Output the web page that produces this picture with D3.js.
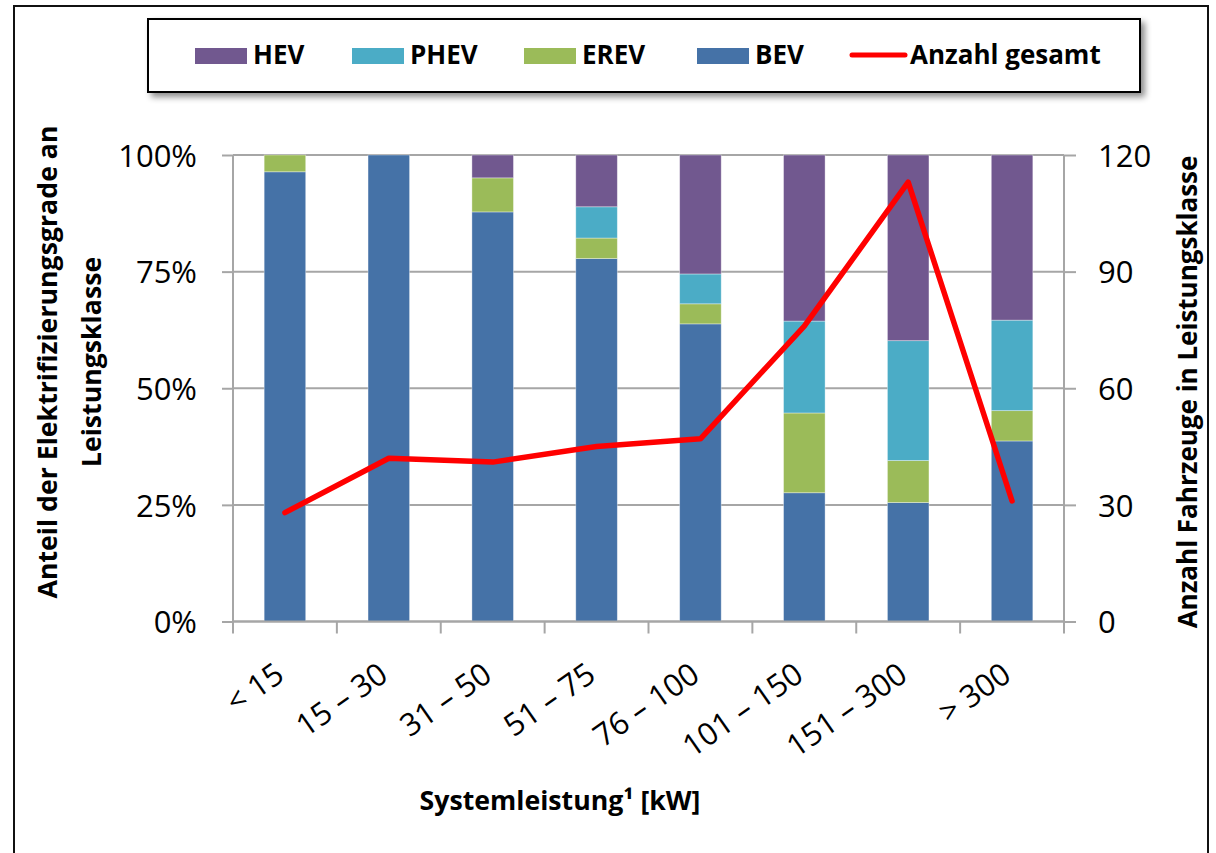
<!DOCTYPE html>
<html><head><meta charset="utf-8">
<script src="https://cdn.jsdelivr.net/npm/d3@7"></script>
<style>body{margin:0;background:#fff}</style>
</head><body>
<svg id="chart" width="1216" height="853"></svg>
<script>
// ---- data ----
const categories = ["< 15", "15 – 30", "31 – 50", "51 – 75", "76 – 100", "101 – 150", "151 – 300", "> 300"];
const bev  = [96.4, 100, 87.8, 77.8, 63.8, 27.6, 25.5, 38.7];
const erev = [3.6, 0, 7.3, 4.4, 4.3, 17.1, 9.0, 6.5];
const phev = [0, 0, 0, 6.7, 6.4, 19.7, 25.7, 19.4];
const hev  = [0, 0, 4.9, 11.1, 25.5, 35.6, 39.8, 35.4];
const anzahlGesamt = [28, 42, 41, 45, 47, 76, 113, 31];
const leftTicks = [0, 25, 50, 75, 100];
const rightTicks = [0, 30, 60, 90, 120];
const seriesNames = ["BEV", "EREV", "PHEV", "HEV"];
const seriesColors = {BEV: "#4572A7", EREV: "#9BBB59", PHEV: "#4BACC6", HEV: "#71588F"};
const legendOrder = ["HEV", "PHEV", "EREV", "BEV"];
const lineName = "Anzahl gesamt";

// ---- layout ----
const svg = d3.select("#chart");
const FONT = "'Open Sans', 'Noto Sans', sans-serif";
const plot = {left: 233, right: 1064, top: 155, bottom: 621.5};
const gridColor = "#a6a6a6";

const table = categories.map((c, i) => ({cat: c, BEV: bev[i], EREV: erev[i], PHEV: phev[i], HEV: hev[i], total: anzahlGesamt[i]}));

const x = d3.scaleBand().domain(categories).range([plot.left, plot.right]).paddingInner(0.6).paddingOuter(0.3);
const yL = d3.scaleLinear().domain([0, 100]).range([plot.bottom, plot.top]);
const yR = d3.scaleLinear().domain([0, 120]).range([plot.bottom, plot.top]);

// outer frame
svg.append("rect").attr("x", 14).attr("y", 6).attr("width", 1194).attr("height", 870)
  .attr("fill", "none").attr("stroke", "#111").attr("stroke-width", 2);

// shadow filter
const defs = svg.append("defs");
const f = defs.append("filter").attr("id", "shadow").attr("x", "-5%").attr("y", "-20%").attr("width", "115%").attr("height", "160%");
f.append("feDropShadow").attr("dx", 4).attr("dy", 4).attr("stdDeviation", 3).attr("flood-color", "#000").attr("flood-opacity", 0.45);

// gridlines
svg.append("g").selectAll("line").data(leftTicks).join("line")
  .attr("x1", plot.left).attr("x2", plot.right)
  .attr("y1", d => yL(d)).attr("y2", d => yL(d))
  .attr("stroke", gridColor).attr("stroke-width", 2);

// stacked bars
const stack = d3.stack().keys(seriesNames)(table);
svg.append("g").selectAll("g").data(stack).join("g")
  .attr("fill", d => seriesColors[d.key])
  .selectAll("rect").data(d => d.filter(s => s[1] - s[0] > 0)).join("rect")
  .attr("x", d => x(d.data.cat))
  .attr("width", x.bandwidth())
  .attr("y", d => yL(d[1]))
  .attr("height", d => yL(d[0]) - yL(d[1]))
  .attr("stroke", "rgba(255,255,255,0.45)").attr("stroke-width", 0.8);

// left axis
const axL = svg.append("g").attr("transform", `translate(${plot.left},0)`)
  .call(d3.axisLeft(yL).tickValues(leftTicks).tickSize(11).tickPadding(25).tickFormat(d => d + "%"));
axL.select(".domain").attr("stroke", gridColor).attr("stroke-width", 2).attr("d", `M0,${plot.bottom}V${plot.top}`);
axL.selectAll(".tick line").attr("stroke", gridColor).attr("stroke-width", 2);
axL.selectAll(".tick text").attr("font-family", FONT).attr("font-size", 31).attr("fill", "#000").attr("dy", "0.36em");

// right axis
const axR = svg.append("g").attr("transform", `translate(${plot.right},0)`)
  .call(d3.axisRight(yR).tickValues(rightTicks).tickSize(12).tickPadding(22));
axR.select(".domain").attr("stroke", gridColor).attr("stroke-width", 2).attr("d", `M0,${plot.bottom}V${plot.top}`);
axR.selectAll(".tick line").attr("stroke", gridColor).attr("stroke-width", 2);
axR.selectAll(".tick text").attr("font-family", FONT).attr("font-size", 31).attr("fill", "#000").attr("dy", "0.36em");

// bottom axis (ticks between categories)
const gap = (x.step() - x.bandwidth()) / 2;
const boundaries = categories.map(c => x(c) - gap).concat([x(categories[categories.length - 1]) + x.bandwidth() + gap]);
const axB = svg.append("g");
axB.append("line").attr("x1", plot.left).attr("x2", plot.right).attr("y1", plot.bottom).attr("y2", plot.bottom)
  .attr("stroke", gridColor).attr("stroke-width", 2);
axB.selectAll("line.t").data(boundaries).join("line").attr("class", "t")
  .attr("x1", d => d).attr("x2", d => d).attr("y1", plot.bottom).attr("y2", plot.bottom + 12)
  .attr("stroke", gridColor).attr("stroke-width", 2);
axB.selectAll("text").data(categories).join("text")
  .attr("transform", d => `translate(${x(d) + x.bandwidth() / 2 + 1},679) rotate(-35)`)
  .attr("text-anchor", "end").attr("font-family", FONT).attr("font-size", 31).attr("fill", "#000")
  .text(d => d);

// line
const line = d3.line().x(d => x(d.cat) + x.bandwidth() / 2).y(d => yR(d.total));
svg.append("path").datum(table).attr("d", line)
  .attr("fill", "none").attr("stroke", "#ff0000").attr("stroke-width", 5.5)
  .attr("stroke-linejoin", "round").attr("stroke-linecap", "round");

// axis titles
svg.append("text").attr("transform", "translate(57,362) rotate(-90)").attr("text-anchor", "middle")
  .attr("font-family", FONT).attr("font-weight", "bold").attr("font-size", 26.7).text("Anteil der Elektrifizierungsgrade an");
svg.append("text").attr("transform", "translate(101,362) rotate(-90)").attr("text-anchor", "middle")
  .attr("font-family", FONT).attr("font-weight", "bold").attr("font-size", 26.7).text("Leistungsklasse");
svg.append("text").attr("transform", "translate(1197,392) rotate(-90)").attr("text-anchor", "middle")
  .attr("font-family", FONT).attr("font-weight", "bold").attr("font-size", 26).text("Anzahl Fahrzeuge in Leistungsklasse");
svg.append("text").attr("x", 560).attr("y", 810).attr("text-anchor", "middle")
  .attr("font-family", FONT).attr("font-weight", "bold").attr("font-size", 26.7).text("Systemleistung¹ [kW]");

// legend
const lg = svg.append("g");
lg.append("rect").attr("x", 148).attr("y", 19).attr("width", 992).attr("height", 73)
  .attr("fill", "#fff").attr("stroke", "#000").attr("stroke-width", 2).attr("filter", "url(#shadow)");
const legendX = [195, 352, 524, 697];
legendOrder.forEach((name, i) => {
  lg.append("rect").attr("x", legendX[i]).attr("y", 48).attr("width", 52).attr("height", 16).attr("fill", seriesColors[name]);
  lg.append("text").attr("x", legendX[i] + 58).attr("y", 64).attr("font-family", FONT).attr("font-weight", "bold")
    .attr("font-size", 26).text(name);
});
lg.append("line").attr("x1", 852).attr("x2", 905).attr("y1", 55).attr("y2", 55)
  .attr("stroke", "#ff0000").attr("stroke-width", 5).attr("stroke-linecap", "round");
lg.append("text").attr("x", 910).attr("y", 64).attr("font-family", FONT).attr("font-weight", "bold")
  .attr("font-size", 26).text(lineName);
</script>
</body></html>
